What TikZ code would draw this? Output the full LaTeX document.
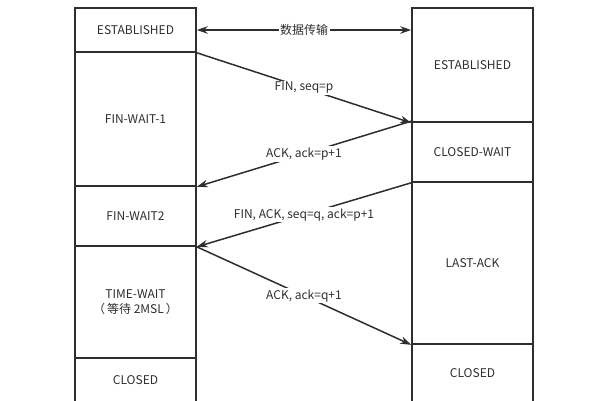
\documentclass[tikz,border=0pt]{standalone}
\usepackage{fontspec}
\setmainfont{Noto Sans CJK SC}
\usetikzlibrary{arrows.meta}
\definecolor{ink}{HTML}{2E2E2E}
\tikzset{
  state/.style={draw=ink, line width=1.6pt, minimum width=121pt, inner sep=0pt, text=ink, font=\fontsize{12}{15}\selectfont, align=center},
  msg/.style={draw=ink, line width=1.5pt, -{Stealth[length=11pt,width=7.5pt]}},
  lbl/.style={fill=white, text=ink, font=\fontsize{12}{15}\selectfont, inner sep=1.5pt}
}
\begin{document}
\begin{tikzpicture}[x=1pt,y=-1pt]
\clip (0,0) rectangle (600,400);
\fill[white] (0,0) rectangle (600,400);
% left column (client)
\node[state, minimum height=44pt]  (L1) at (135.5,30)  {ESTABLISHED};
\node[state, minimum height=134pt] (L2) at (135.5,119) {FIN-WAIT-1};
\node[state, minimum height=60pt]  (L3) at (135.5,216) {FIN-WAIT2};
\node[state, minimum height=112pt] (L4) at (135.5,302) {TIME-WAIT\\（\,等待 2MSL\,）};
\node[state, minimum height=44pt]  (L5) at (135.5,380) {CLOSED};
% right column (server)
\node[state, minimum height=114pt] (R1) at (472.5,65)  {ESTABLISHED};
\node[state, minimum height=60pt]  (R2) at (472.5,152) {CLOSED-WAIT};
\node[state, minimum height=162pt] (R3) at (472.5,263) {LAST-ACK};
\node[state, minimum height=58pt]  (R4) at (472.5,373) {CLOSED};
% messages
\draw[msg, {Stealth[length=11pt,width=7.5pt]}-{Stealth[length=11pt,width=7.5pt]}] (L1.east) -- (L1.east -| R1.west) node[lbl, pos=0.5] {数据传输};
\draw[msg] (L1.south east) -- (R1.south west) node[lbl, pos=0.5] {FIN, seq=p};
\draw[msg] (R2.north west) -- (L2.south east) node[lbl, pos=0.5] {ACK, ack=p+1};
\draw[msg] (R2.south west) -- (L3.south east) node[lbl, pos=0.5] {FIN, ACK, seq=q, ack=p+1};
\draw[msg] (L3.south east) -- (R3.south west) node[lbl, pos=0.5] {ACK, ack=q+1};
\end{tikzpicture}
\end{document}
